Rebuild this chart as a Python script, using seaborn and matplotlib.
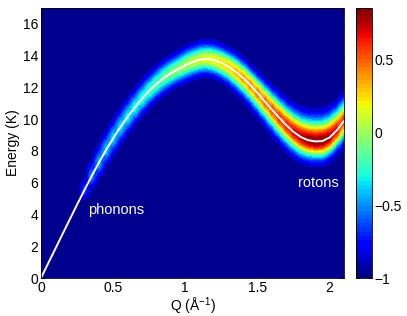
import numpy as np
import matplotlib
matplotlib.use("Agg")
import matplotlib.pyplot as plt
import seaborn as sns
from matplotlib.colors import Normalize

sns.set_style("ticks")
plt.rcParams['font.family'] = ['Liberation Sans', 'DejaVu Sans']
plt.rcParams['mathtext.default'] = 'regular'
plt.rcParams['font.size'] = 10
for key in ['text.color', 'axes.labelcolor', 'xtick.color', 'ytick.color', 'axes.edgecolor']:
    plt.rcParams[key] = 'black'

# momentum transfer (1/A) and dispersion energy (K)
q = [0.00, 0.05, 0.10, 0.15, 0.20, 0.25, 0.30, 0.35, 0.40, 0.45,
     0.50, 0.55, 0.60, 0.65, 0.70, 0.75, 0.80, 0.85, 0.90, 0.95,
     1.00, 1.05, 1.10, 1.15, 1.20, 1.25, 1.30, 1.35, 1.40, 1.45,
     1.50, 1.55, 1.60, 1.65, 1.70, 1.75, 1.80, 1.85, 1.90, 1.95,
     2.00, 2.05, 2.10]
energy = [0.00, 0.93, 1.85, 2.78, 3.70, 4.62, 5.52, 6.40, 7.25, 8.05,
          8.80, 9.50, 10.15, 10.75, 11.30, 11.80, 12.22, 12.60, 12.90, 13.15,
          13.40, 13.60, 13.75, 13.80, 13.72, 13.55, 13.30, 12.98, 12.60, 12.15,
          11.65, 11.12, 10.60, 10.10, 9.62, 9.20, 8.88, 8.68, 8.60, 8.62,
          8.85, 9.30, 9.90]

# intensity at the band centre (colour scale units)
peak = [-1.0, -1.0, -1.0, -1.0, -1.0, -1.0, -0.65, -0.52, -0.44, -0.4,
        -0.37, -0.34, -0.3, -0.26, -0.22, -0.18, -0.14, -0.1, -0.06, -0.02,
        0.03, 0.08, 0.12, 0.16, 0.2, 0.24, 0.3, 0.36, 0.42, 0.46,
        0.5, 0.53, 0.57, 0.62, 0.67, 0.72, 0.77, 0.82, 0.85, 0.85,
        0.8, 0.72, 0.62]

# visible half widths of the band above / below the curve (K)
width_up = [0.5, 0.5, 0.5, 0.5, 0.5, 0.5, 0.7, 0.95, 1.15, 1.2,
            1.2, 1.2, 1.2, 1.2, 1.2, 1.2, 1.2, 1.2, 1.2, 1.2,
            1.25, 1.25, 1.25, 1.25, 1.25, 1.25, 1.25, 1.3, 1.3, 1.3,
            1.35, 1.45, 1.55, 1.65, 1.75, 1.85, 1.95, 2.05, 2.1, 2.1,
            2.05, 1.95, 1.85]
width_down = [0.5, 0.5, 0.5, 0.5, 0.5, 0.5, 0.6, 0.8, 0.95, 1.0,
              1.05, 1.05, 1.1, 1.1, 1.1, 1.1, 1.1, 1.1, 1.1, 1.1,
              1.15, 1.15, 1.15, 1.15, 1.2, 1.25, 1.3, 1.4, 1.45, 1.5,
              1.55, 1.6, 1.65, 1.7, 1.7, 1.7, 1.7, 1.65, 1.6, 1.6,
              1.55, 1.5, 1.5]

cmin, cmax = -1.0, 0.85

# build the intensity map around the dispersion
q_arr = np.array(q)
e_arr = np.array(energy)
e_grid = np.linspace(0, 17, 500)
QQ, EE = np.meshgrid(q_arr, e_grid)
amp = np.array(peak) - cmin
thr = 0.09
k = np.sqrt(2 * np.log(np.maximum(amp, thr * 1.01) / thr))
sig_up = np.array(width_up) / k
sig_dn = np.array(width_down) / k
d = EE - e_arr[None, :]
sig = np.where(d > 0, sig_up[None, :], sig_dn[None, :])
field = cmin + amp[None, :] * np.exp(-0.5 * (d / sig) ** 2)

fig = plt.figure(figsize=(4.07, 3.16), dpi=100)
ax = fig.add_axes([41 / 407, 38 / 316, 303 / 407, 270 / 316])
cax = fig.add_axes([356 / 407, 38 / 316, 16 / 407, 270 / 316])

cmap = plt.get_cmap('jet').copy()
cmap.set_under((0, 0, 0.5625))
norm = Normalize(cmin, cmax)
levels = np.linspace(cmin, cmax, 21)[1:]
ax.contourf(QQ, EE, field, levels=levels, cmap=cmap, norm=norm, extend='min')

sns.lineplot(x=q, y=energy, color='white', lw=1.4, ax=ax)

ax.text(0.326, 4.3, 'phonons', color='white', fontsize=10.5, va='center', ha='left')
ax.text(1.92, 6.0, 'rotons', color='white', fontsize=10.5, va='center', ha='center')

ax.set_xlim(0, 2.1)
ax.set_ylim(0, 17)
ax.set_xticks([0, 0.5, 1, 1.5, 2])
ax.set_xticklabels(['0', '0.5', '1', '1.5', '2'])
ax.set_yticks(range(0, 17, 2))
ax.set_xlabel('Q (Å$^{-1}$)', labelpad=1)
ax.set_ylabel('Energy (K)', labelpad=2)
ax.tick_params(direction='in', top=True, right=True, length=3, width=0.6, pad=2)
for s in ax.spines.values():
    s.set_linewidth(0.6)
    s.set_visible(True)

sm = plt.cm.ScalarMappable(norm=norm, cmap=plt.get_cmap('jet').resampled(64))
cb = fig.colorbar(sm, cax=cax)
cb.set_ticks([-1, -0.5, 0, 0.5])
cb.set_ticklabels(['−1', '−0.5', '0', '0.5'])
cax.tick_params(direction='in', left=True, right=True, length=3, width=0.6, pad=2)
cb.outline.set_linewidth(0.6)

fig.savefig('out.png', dpi=100)
